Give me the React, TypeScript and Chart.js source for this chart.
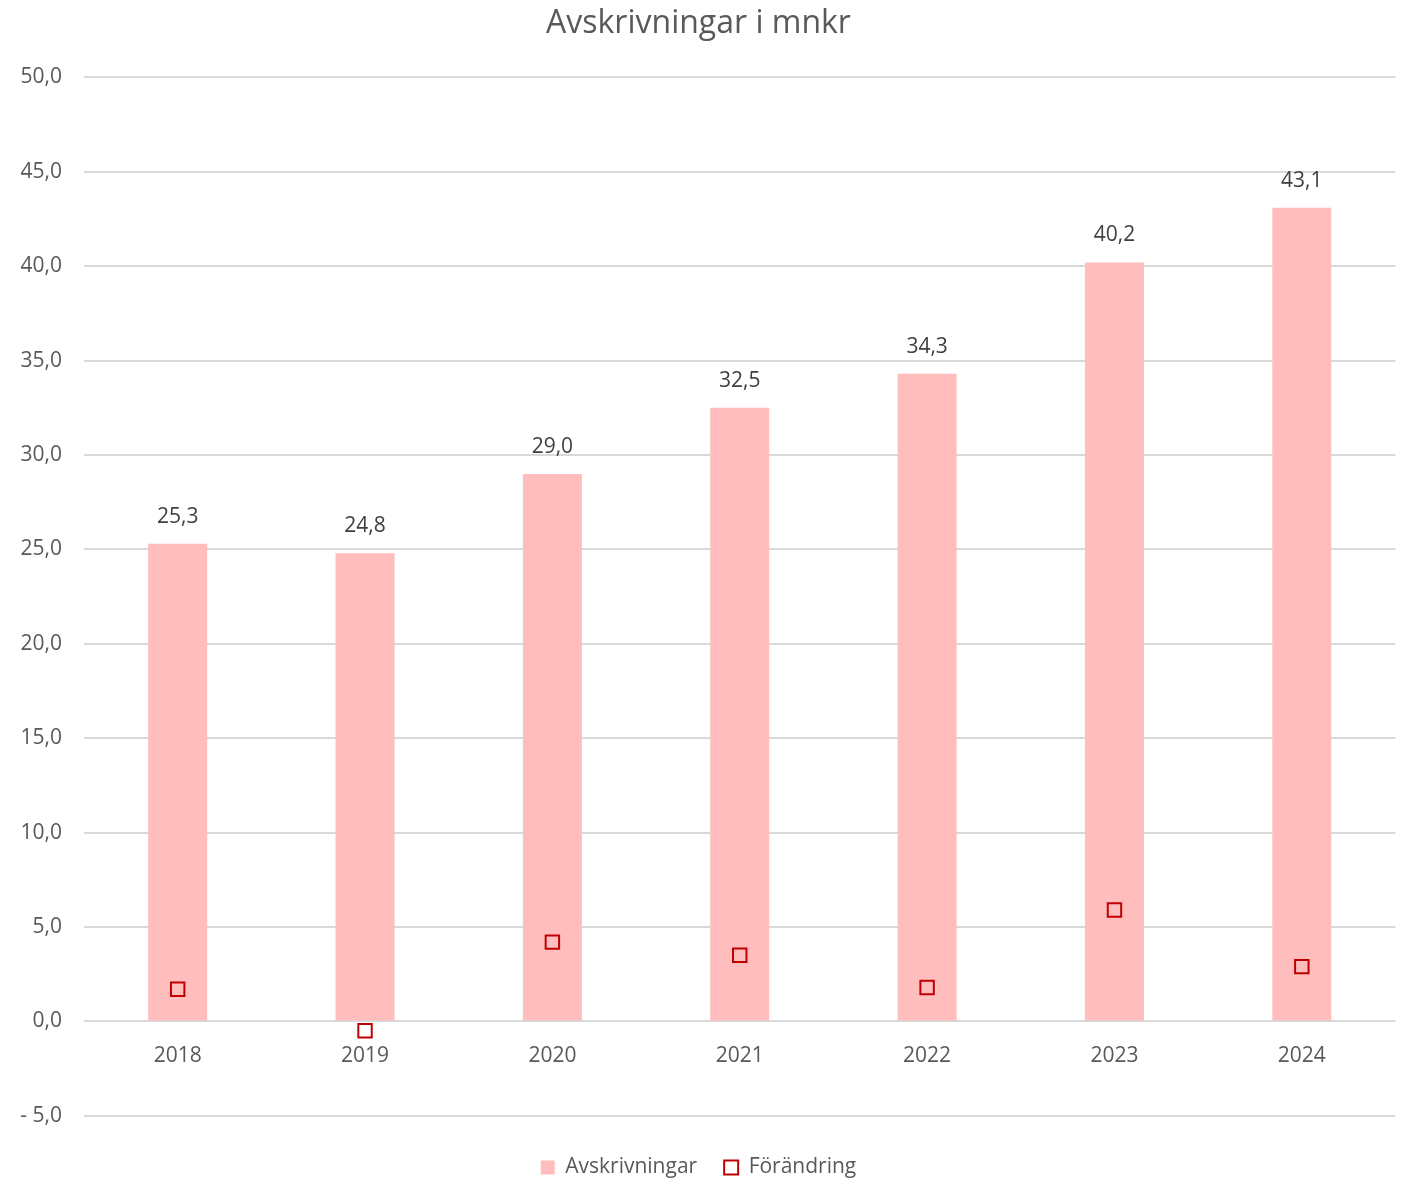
import React, { useEffect, useRef } from "react";
import { Chart, registerables } from "chart.js";

Chart.register(...registerables);

const categories = ["2018", "2019", "2020", "2021", "2022", "2023", "2024"];
const avskrivningar = [25.3, 24.8, 29.0, 32.5, 34.3, 40.2, 43.1];
const forandring = [1.7, -0.5, 4.2, 3.5, 1.8, 5.9, 2.9];

const FONT = "'Open Sans', 'Noto Sans', sans-serif";

const fmt = (v: number) => {
  const s = Math.abs(v).toFixed(1).replace(".", ",");
  return v < 0 ? "- " + s : s;
};

const barLabels = {
  id: "barLabels",
  afterDatasetsDraw(chart: any) {
    const ctx = chart.ctx;
    const meta = chart.getDatasetMeta(0);
    ctx.save();
    ctx.font = `21px ${FONT}`;
    ctx.fillStyle = "#404040";
    ctx.textAlign = "center";
    ctx.textBaseline = "middle";
    meta.data.forEach((el: any, i: number) => {
      ctx.fillText(fmt(avskrivningar[i]), el.x, el.y - 27);
    });
    ctx.restore();
  },
};

export default function App() {
  const ref = useRef<HTMLCanvasElement | null>(null);
  useEffect(() => {
    document.body.style.margin = "0";
    const chart = new Chart(ref.current!, {
      type: "bar",
      data: {
        labels: categories,
        datasets: [
          {
            type: "bar",
            label: "Avskrivningar",
            data: avskrivningar,
            backgroundColor: "#FFBDBD",
            borderWidth: 0,
            barPercentage: 0.315,
            categoryPercentage: 1,
            pointStyle: "rect",
            order: 2,
          } as any,
          {
            type: "line",
            label: "Förändring",
            data: forandring,
            showLine: false,
            pointStyle: "rect",
            pointRadius: 9.5,
            pointHoverRadius: 9.5,
            pointBorderWidth: 2,
            pointBorderColor: "#C00000",
            pointBackgroundColor: "rgba(0,0,0,0)",
            borderColor: "#C00000",
            backgroundColor: "rgba(0,0,0,0)",
            borderWidth: 2,
            order: 1,
          } as any,
        ],
      },
      options: {
        responsive: false,
        animation: false,
        layout: { padding: { left: 0, right: 10, top: 5, bottom: -6 } },
        plugins: {
          title: {
            display: true,
            text: "Avskrivningar i mnkr",
            color: "#595959",
            font: { family: FONT, size: 32, weight: "normal" },
            padding: { top: 0, bottom: 34 },
          },
          legend: {
            position: "bottom",
            title: {
              display: true,
              text: " ",
              font: { size: 1 },
              padding: { top: 13, bottom: 0 },
            },
            labels: {
              usePointStyle: true,
              boxWidth: 14,
              boxHeight: 14,
              color: "#595959",
              font: { family: FONT, size: 21 },
              padding: 27,
              sort: (a: any, b: any) => a.datasetIndex - b.datasetIndex,
            },
          },
          tooltip: { enabled: false },
        },
        scales: {
          x: {
            position: { y: 0 } as any,
            grid: { display: false },
            border: { display: false },
            ticks: { color: "#595959", font: { family: FONT, size: 21 }, padding: 14 },
          },
          y: {
            min: -5,
            max: 50,
            afterFit: (s: any) => {
              s.width = 84;
            },
            ticks: {
              stepSize: 5,
              color: "#595959",
              font: { family: FONT, size: 21 },
              padding: 22,
              callback: (v: any) => fmt(Number(v)),
            },
            grid: { color: "#D9D9D9", lineWidth: 2, drawTicks: false },
            border: { display: false },
          },
        },
      },
      plugins: [barLabels],
    });
    return () => chart.destroy();
  }, []);
  return <canvas ref={ref} width={1407} height={1182} style={{ display: "block" }} />;
}
